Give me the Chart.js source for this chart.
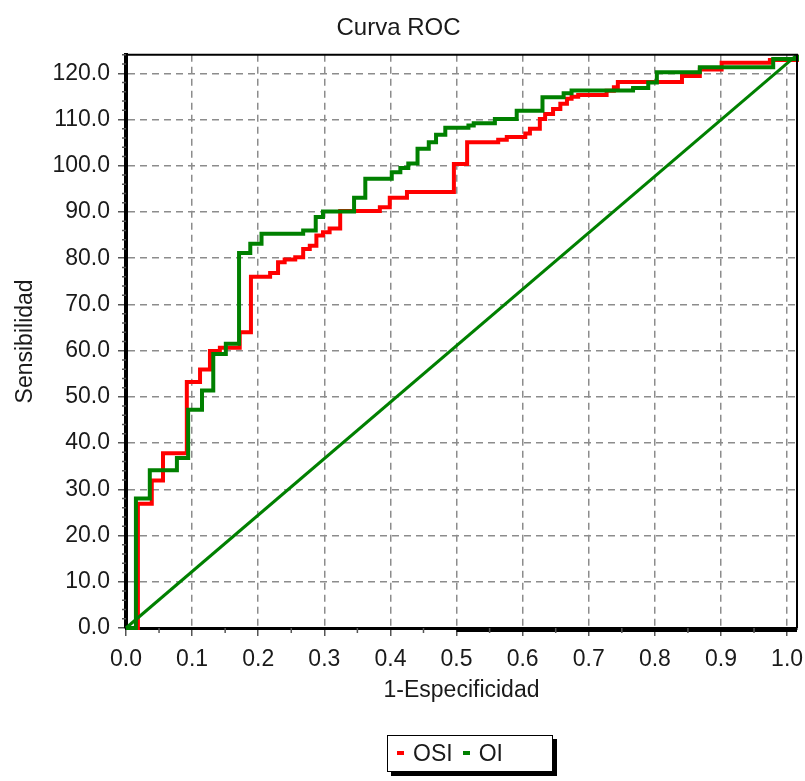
<!DOCTYPE html>
<html>
<head>
<meta charset="utf-8">
<title>Curva ROC</title>
<script src="https://cdn.jsdelivr.net/npm/chart.js@4.4.1/dist/chart.umd.min.js"></script>
<style>
  body { margin: 0; background: #fff; }
  #wrap { position: relative; width: 805px; height: 781px; }
  #legend {
    position: absolute; left: 387px; top: 735px; width: 164px; height: 35px;
    border: 1.5px solid #000; box-shadow: 4px 4px 0 #000; background: #fff;
    display: flex; align-items: center;
    font: 23px 'Liberation Sans', Arial, sans-serif; color: #1a1a1a;
  }
  #legend .dash { display: inline-block; width: 7px; height: 4px; margin: 0 9px 2px 10px; }
  #legend .dash:first-child { margin-left: 9px; }
</style>
</head>
<body>
<div id="wrap">
  <canvas id="roc" width="805" height="781"></canvas>
  <div id="legend"></div>
</div>
<script>
const FONT = "'Liberation Sans', Arial, sans-serif";
const TEXT = '#1a1a1a';

// axis ranges / tick labels
const xMax = 1.015;
const yMax = 124;
const xTicks = [0.0, 0.1, 0.2, 0.3, 0.4, 0.5, 0.6, 0.7, 0.8, 0.9, 1.0];
const yTicks = [0, 10, 20, 30, 40, 50, 60, 70, 80, 90, 100, 110, 120];

// OSI curve (corner points of the steps: 1-especificidad, sensibilidad)
const osiFpr = [0, 0.018, 0.039, 0.056, 0.092, 0.112, 0.127, 0.142, 0.172, 0.189, 0.218,
  0.230, 0.240, 0.256, 0.268, 0.278, 0.288, 0.298, 0.308, 0.324, 0.384, 0.399, 0.425,
  0.496, 0.516, 0.563, 0.576, 0.604, 0.611, 0.626, 0.634, 0.646, 0.657, 0.667, 0.674,
  0.684, 0.727, 0.738, 0.744, 0.841, 0.868, 0.901, 0.974, 1.015];
const osiSens = [0, 26.9, 31.9, 37.8, 53.2, 55.9, 59.9, 60.6, 64.0, 76.0, 76.8,
  79.1, 79.7, 80.2, 82.0, 82.7, 84.9, 85.6, 86.4, 90.2, 91.0, 93.1, 94.3,
  100.4, 105.1, 105.6, 106.2, 107.0, 108.0, 110.1, 111.2, 112.3, 113.4, 114.5, 114.9,
  115.3, 116.2, 117.0, 118.1, 119.4, 120.8, 122.3, 122.9, 124];

// OI curve
const oiFpr = [0, 0.015, 0.036, 0.077, 0.094, 0.115, 0.132, 0.151, 0.171, 0.188, 0.205,
  0.268, 0.287, 0.298, 0.345, 0.362, 0.402, 0.415, 0.427, 0.441, 0.458, 0.469, 0.483,
  0.518, 0.526, 0.558, 0.591, 0.630, 0.662, 0.674, 0.767, 0.790, 0.803, 0.868, 0.979, 1.015];
const oiSens = [0, 28.0, 34.1, 36.8, 47.2, 51.4, 59.3, 61.5, 81.1, 83.1, 85.3,
  86.0, 88.9, 90.1, 93.1, 97.2, 98.6, 99.5, 100.5, 103.7, 105.1, 106.7, 108.2,
  108.7, 109.2, 110.1, 111.9, 114.8, 115.7, 116.3, 116.8, 118.0, 120.2, 121.3, 123.1, 124];

// reference diagonal
const diagFpr = [0, 1.015];
const diagSens = [0, 124];

function pts(xs, ys) {
  return xs.map((x, i) => ({ x, y: ys[i] }));
}

const frame = {
  id: 'frame',
  afterDraw(chart) {
    const { ctx, chartArea: a, scales: { x, y } } = chart;
    ctx.save();
    ctx.strokeStyle = '#000';
    ctx.lineWidth = 2;
    ctx.beginPath();
    ctx.moveTo(a.left, a.top);
    ctx.lineTo(a.right, a.top);
    ctx.lineTo(a.right, a.bottom);
    ctx.stroke();

    // heavier base line from 0.5 on, like the original
    ctx.lineWidth = 3;
    ctx.beginPath();
    ctx.moveTo(x.getPixelForValue(0.5), a.bottom + 2.5);
    ctx.lineTo(a.right, a.bottom + 2.5);
    ctx.stroke();

    // minor ticks
    ctx.strokeStyle = '#555';
    ctx.lineWidth = 1.5;
    ctx.beginPath();
    for (let i = 0; i < xTicks.length; i++) {
      const px = x.getPixelForValue(xTicks[i] + 0.05);
      if (px > a.right) break;
      ctx.moveTo(px, a.bottom);
      ctx.lineTo(px, a.bottom + 5);
    }
    for (let v = 2; v <= yMax; v += 2) {
      if (v % 10 === 0) continue;
      const py = y.getPixelForValue(v);
      ctx.moveTo(a.left - 4, py);
      ctx.lineTo(a.left, py);
    }
    ctx.stroke();
    ctx.restore();
  }
};

const axisFont = { family: FONT, size: 23 };

const chart = new Chart(document.getElementById('roc'), {
  type: 'line',
  data: {
    datasets: [
      { label: 'OSI', data: pts(osiFpr, osiSens), borderColor: '#ff0000', borderWidth: 4,
        stepped: true, pointRadius: 0, order: 2, clip: 6 },
      { label: 'OI', data: pts(oiFpr, oiSens), borderColor: '#008000', borderWidth: 4,
        stepped: true, pointRadius: 0, order: 0, clip: 6 },
      { label: 'diagonal', data: pts(diagFpr, diagSens), borderColor: '#008000', borderWidth: 3,
        pointRadius: 0, order: 1, clip: 6 },
    ],
  },
  options: {
    responsive: false,
    animation: false,
    layout: { padding: { left: 0, right: 8, top: 0, bottom: 75 } },
    plugins: {
      legend: { display: false },
      tooltip: { enabled: false },
      title: {
        display: true,
        text: 'Curva ROC',
        color: TEXT,
        font: { family: FONT, size: 24, weight: 'normal' },
        padding: { top: 14, bottom: 12 },
      },
    },
    scales: {
      x: {
        type: 'linear',
        min: 0,
        max: xMax,
        afterBuildTicks: s => { s.ticks = xTicks.map(v => ({ value: v })); },
        afterFit: s => { s.height = 78; s.paddingLeft = 0; s.paddingRight = 0; },
        ticks: { callback: v => Number(v).toFixed(1), color: TEXT, font: axisFont,
          padding: 10, maxRotation: 0, autoSkip: false },
        grid: { color: '#8c8c8c', lineWidth: 1.5, tickLength: 8, tickColor: '#555', tickWidth: 1.5 },
        border: { color: '#000', width: 3, dash: [7, 5] },
        title: { display: true, text: '1-Especificidad', color: TEXT, font: axisFont,
          padding: { top: 0, bottom: 2 } },
      },
      y: {
        type: 'linear',
        min: 0,
        max: yMax,
        afterBuildTicks: s => { s.ticks = yTicks.map(v => ({ value: v })); },
        afterFit: s => { s.width = 126; s.paddingTop = 0; s.paddingBottom = 0; },
        ticks: { callback: v => Number(v).toFixed(1), color: TEXT, font: axisFont,
          padding: 8, autoSkip: false },
        grid: { color: '#8c8c8c', lineWidth: 1.5, tickLength: 8, tickColor: '#555', tickWidth: 1.5 },
        border: { color: '#000', width: 4, dash: [7, 5] },
        title: { display: true, text: 'Sensibilidad', color: TEXT, font: axisFont,
          padding: { top: 12, bottom: 0 } },
      },
    },
  },
  plugins: [frame],
});

// legend box (only the two curves)
const legendEl = document.getElementById('legend');
for (const ds of chart.data.datasets.slice(0, 2)) {
  const dash = document.createElement('span');
  dash.className = 'dash';
  dash.style.background = ds.borderColor;
  const label = document.createElement('span');
  label.textContent = ds.label;
  legendEl.appendChild(dash);
  legendEl.appendChild(label);
}
</script>
</body>
</html>
